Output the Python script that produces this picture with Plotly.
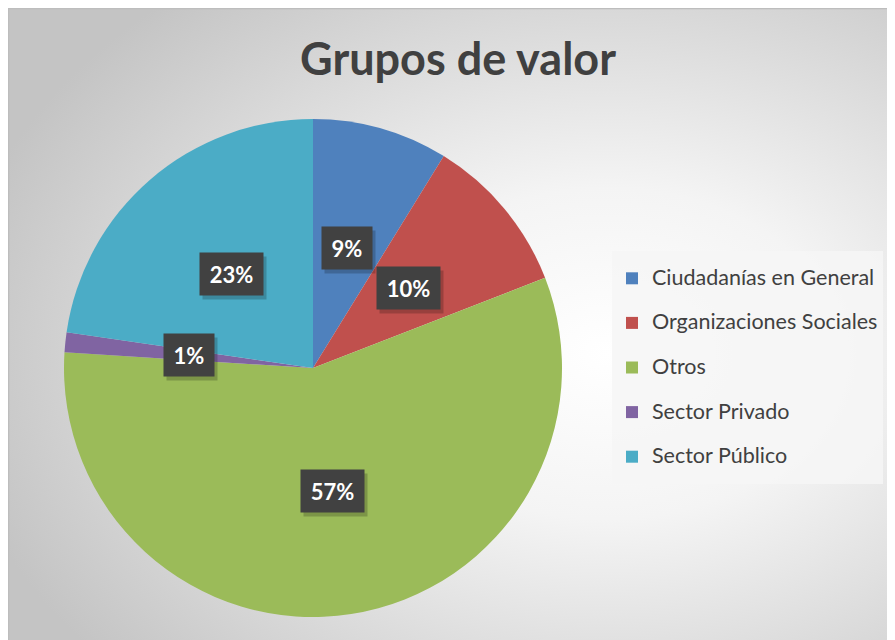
import base64
import math
import plotly.graph_objects as go

labels = [
    "Ciudadanías en General",
    "Organizaciones Sociales",
    "Otros",
    "Sector Privado",
    "Sector Público",
]
values = [8.8, 10.3, 56.9, 1.3, 22.7]
colors = ["#4f81bd", "#c0504d", "#9bbb59", "#8064a2", "#4bacc6"]

W, H = 895, 640
# pie placement in figure pixels (page is offset 8px by the body margin)
cx, cy, R = 305, 360, 249

# radial grey background of the chart area
svg = (
    '<svg xmlns="http://www.w3.org/2000/svg" width="895" height="640" '
    'preserveAspectRatio="none"><defs>'
    '<radialGradient id="g" cx="0.67" cy="0.54" r="0.74">'
    '<stop offset="0" stop-color="#ffffff"/>'
    '<stop offset="0.35" stop-color="#f4f4f4"/>'
    '<stop offset="1" stop-color="#c4c4c4"/>'
    "</radialGradient></defs>"
    '<rect width="895" height="640" fill="url(#g)"/>'
    '<rect x="0.5" y="0.5" width="894" height="639" fill="none" '
    'stroke="#bdbdbd" stroke-width="1.5"/></svg>'
)
bg_src = "data:image/svg+xml;base64," + base64.b64encode(svg.encode()).decode()

legend_labels = [
    '<span style="font-size:21.5px;baseline-shift:6px">' + l + "</span>" for l in labels
]

fig = go.Figure()
fig.add_trace(
    go.Pie(
        labels=legend_labels,
        values=values,
        sort=False,
        direction="clockwise",
        rotation=0,
        marker=dict(colors=colors, line=dict(width=0)),
        textinfo="none",
        hoverinfo="skip",
        domain=dict(x=[(cx - R) / W, (cx + R) / W], y=[1 - (cy + R) / H, 1 - (cy - R) / H]),
    )
)

# percentage boxes at half radius on each slice's mid angle
total = sum(values)
annotations = []
cum = 0
for v in values:
    mid = (cum + v / 2) / total * 2 * math.pi
    cum += v
    px = cx + 0.5 * R * math.sin(mid)
    py = cy - 0.5 * R * math.cos(mid)
    pct = str(round(100 * v / total)) + "%"
    common = dict(
        x=px / W,
        y=1 - py / H,
        xref="paper",
        yref="paper",
        xanchor="center",
        yanchor="middle",
        showarrow=False,
        borderpad=9,
        width=13 * len(pct) + 6,
        height=24,
    )
    # soft shadow
    annotations.append(
        dict(
            **common,
            text="&nbsp;",
            bgcolor="rgba(0,0,0,0.2)",
            xshift=3,
            yshift=-4,
            font=dict(family="Lato", size=22),
        )
    )
    annotations.append(
        dict(
            **common,
            text="<b>" + pct + "</b>",
            bgcolor="#414141",
            font=dict(family="Lato", size=22, color="white"),
        )
    )

fig.update_layout(
    width=W,
    height=H,
    margin=dict(l=0, r=0, t=0, b=0),
    paper_bgcolor="white",
    font=dict(family="Lato", color="#404040"),
    title=dict(
        text="<b>Grupos de valor</b>",
        x=450 / W,
        xanchor="center",
        y=1 - 51 / H,
        yanchor="middle",
        font=dict(family="Lato", size=45, color="#404040"),
    ),
    images=[
        dict(
            source=bg_src,
            xref="paper",
            yref="paper",
            x=0,
            y=1,
            sizex=1,
            sizey=1,
            sizing="stretch",
            xanchor="left",
            yanchor="top",
            layer="below",
        )
    ],
    legend=dict(
        x=604 / W,
        y=1 - 243 / H,
        xanchor="left",
        yanchor="top",
        bgcolor="rgba(246,246,246,0.85)",
        font=dict(family="Lato", size=32, color="#404040"),
        itemclick=False,
        itemdoubleclick=False,
    ),
    annotations=annotations,
)

fig.write_html("out.html")
